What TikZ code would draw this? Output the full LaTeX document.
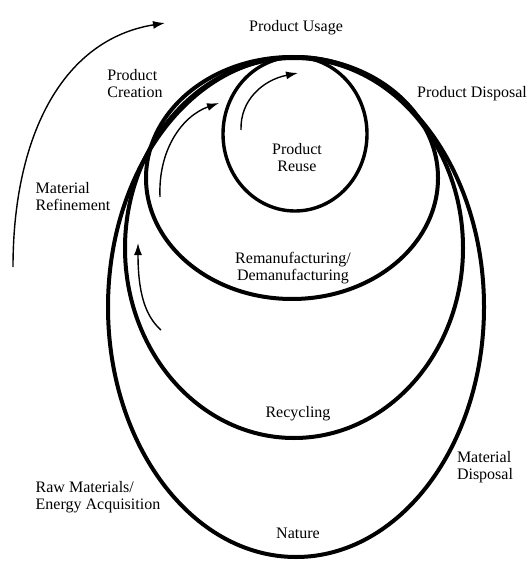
\documentclass[tikz,border=0pt]{standalone}
\usepackage{fontspec}
\setmainfont{Liberation Serif}
\usetikzlibrary{arrows.meta}
\begin{document}
\begin{tikzpicture}[x=1pt, y=-1pt,
    ring/.style={line width=4pt},
    flow/.style={line width=1.4pt, -{Latex[length=12pt,width=8pt]}},
    lab/.style={font=\fontsize{16}{17}\selectfont, inner sep=0pt}]
    \useasboundingbox (0,0) rectangle (530,561);

    % 四个相切的椭圆 (外到内)
    \draw[ring] (296,307) ellipse (188 and 250); % Nature
    \draw[ring] (294,248) ellipse (169 and 190); % Recycling
    \draw[ring] (292,178) ellipse (146 and 121); % Remanufacturing
    \draw[line width=3.4pt] (295,134) ellipse (72 and 77); % Product Reuse

    % 箭头
    \draw[flow] (13,267) .. controls (13,140) and (60,40) .. (165,23);
    \draw[flow] (160,197) .. controls (158,150) and (182,116) .. (219,103);
    \draw[flow] (241,130) .. controls (240,100) and (263,80) .. (298,73);
    \draw[flow] (161,330) .. controls (145,316) and (138,292) .. (138,243);

    % 文字标签
    \node[lab] (usage) at (296,28) {Product Usage};
    \node[lab, align=left] (creation) at (135,84) {Product\\Creation};
    \node[lab, align=left] (refine) at (73,197) {Material\\Refinement};
    \node[lab] (pdisp) at (472,94) {Product Disposal};
    \node[lab, align=center] (reuse) at (297,158) {Product\\Reuse};
    \node[lab, align=center] (reman) at (293,268) {Remanufacturing/\\Demanufacturing};
    \node[lab] (recyc) at (298,414) {Recycling};
    \node[lab, align=left] (mdisp) at (485,467) {Material\\Disposal};
    \node[lab, align=left] (raw) at (98,497) {Raw Materials/\\Energy Acquisition};
    \node[lab] (nature) at (298,533) {Nature};
\end{tikzpicture}
\end{document}
